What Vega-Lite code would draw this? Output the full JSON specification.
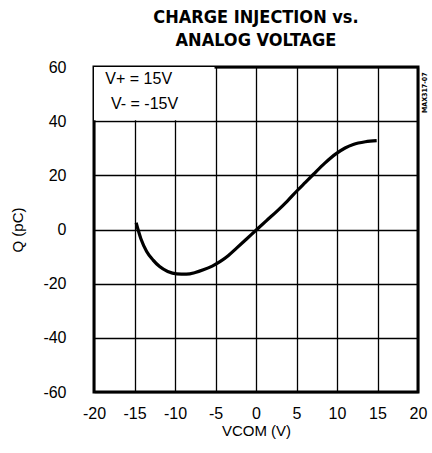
{
  "$schema": "https://vega.github.io/schema/vega-lite/v6.json",
  "width": 324,
  "height": 325,
  "autosize": {"type": "none"},
  "padding": {"left": 94, "top": 67, "right": 14, "bottom": 61},
  "background": "white",
  "title": {
    "text": ["CHARGE INJECTION vs.", "ANALOG VOLTAGE"],
    "font": "DejaVu Sans Condensed",
    "fontSize": 18,
    "fontWeight": "bold",
    "color": "black",
    "lineHeight": 23,
    "anchor": "middle",
    "frame": "group",
    "offset": 9
  },
  "config": {
    "view": {"stroke": "black", "strokeWidth": 3},
    "axis": {
      "domain": false,
      "ticks": false,
      "grid": true,
      "gridColor": "black",
      "gridWidth": 1.3,
      "gridOpacity": 1,
      "labelFont": "Liberation Sans",
      "labelFontSize": 16,
      "labelColor": "black",
      "labelExpr": "replace(datum.label, '−', '-')",
      "titleFont": "Liberation Sans",
      "titleFontSize": 15,
      "titleFontWeight": "normal",
      "titleColor": "black"
    }
  },
  "datasets": {
    "curve": [
      {"v": -14.8, "q": 2.5},
      {"v": -14.2, "q": -3.5},
      {"v": -13.5, "q": -8.1},
      {"v": -12.7, "q": -11.3},
      {"v": -11.9, "q": -13.7},
      {"v": -10.9, "q": -15.5},
      {"v": -9.8, "q": -16.4},
      {"v": -8.6, "q": -16.5},
      {"v": -7.5, "q": -15.9},
      {"v": -6.5, "q": -14.9},
      {"v": -5.4, "q": -13.5},
      {"v": -4.4, "q": -11.8},
      {"v": -3.4, "q": -9.6},
      {"v": -2.4, "q": -6.9},
      {"v": -1.2, "q": -3.6},
      {"v": 0.1, "q": 0},
      {"v": 1.3, "q": 3.3},
      {"v": 2.6, "q": 6.8},
      {"v": 3.9, "q": 10.6},
      {"v": 5.1, "q": 14.4},
      {"v": 6.1, "q": 17.4},
      {"v": 7.1, "q": 20.4},
      {"v": 8.5, "q": 24.5},
      {"v": 9.9, "q": 28.0},
      {"v": 11.0, "q": 30.1},
      {"v": 12.0, "q": 31.4},
      {"v": 13.5, "q": 32.4},
      {"v": 14.9, "q": 32.8}
    ],
    "box": [{"x1": -20, "x2": -5.12, "y1": 40.3, "y2": 60}],
    "notes": [
      {"v": -18.6, "q": 55.4, "t": "V+ = 15V"},
      {"v": -17.9, "q": 46.3, "t": "V- = -15V"}
    ],
    "tag": [{"v": 20.9, "q": 50.5, "t": "MAX317-07"}]
  },
  "layer": [
    {
      "data": {"name": "box"},
      "mark": {"type": "rect", "fill": "white", "stroke": null},
      "encoding": {
        "x": {"field": "x1", "type": "quantitative", "scale": {"domain": [-20, 20]}, "axis": {"values": [-20, -15, -10, -5, 0, 5, 10, 15, 20], "title": "VCOM (V)", "labelPadding": 13, "titlePadding": 2, "labelFlush": false}},
        "x2": {"field": "x2"},
        "y": {"field": "y1", "type": "quantitative", "scale": {"domain": [-60, 60]}, "axis": {"values": [-60, -40, -20, 0, 20, 40, 60], "title": "Q (pC)", "labelPadding": 28, "titlePadding": 17, "labelFlush": false}},
        "y2": {"field": "y2"}
      }
    },
    {
      "data": {"name": "curve"},
      "mark": {"type": "line", "color": "black", "strokeWidth": 3.2, "interpolate": "monotone"},
      "encoding": {
        "x": {"field": "v", "type": "quantitative"},
        "y": {"field": "q", "type": "quantitative"}
      }
    },
    {
      "data": {"name": "notes"},
      "mark": {"type": "text", "align": "left", "baseline": "middle", "font": "Liberation Sans", "fontSize": 16, "color": "black"},
      "encoding": {
        "x": {"field": "v", "type": "quantitative"},
        "y": {"field": "q", "type": "quantitative"},
        "text": {"field": "t"}
      }
    },
    {
      "data": {"name": "tag"},
      "mark": {"type": "text", "align": "center", "baseline": "middle", "angle": 270, "font": "DejaVu Sans Condensed", "fontSize": 7, "fontWeight": "bold", "color": "black", "clip": false},
      "encoding": {
        "x": {"field": "v", "type": "quantitative"},
        "y": {"field": "q", "type": "quantitative"},
        "text": {"field": "t"}
      }
    }
  ]
}
